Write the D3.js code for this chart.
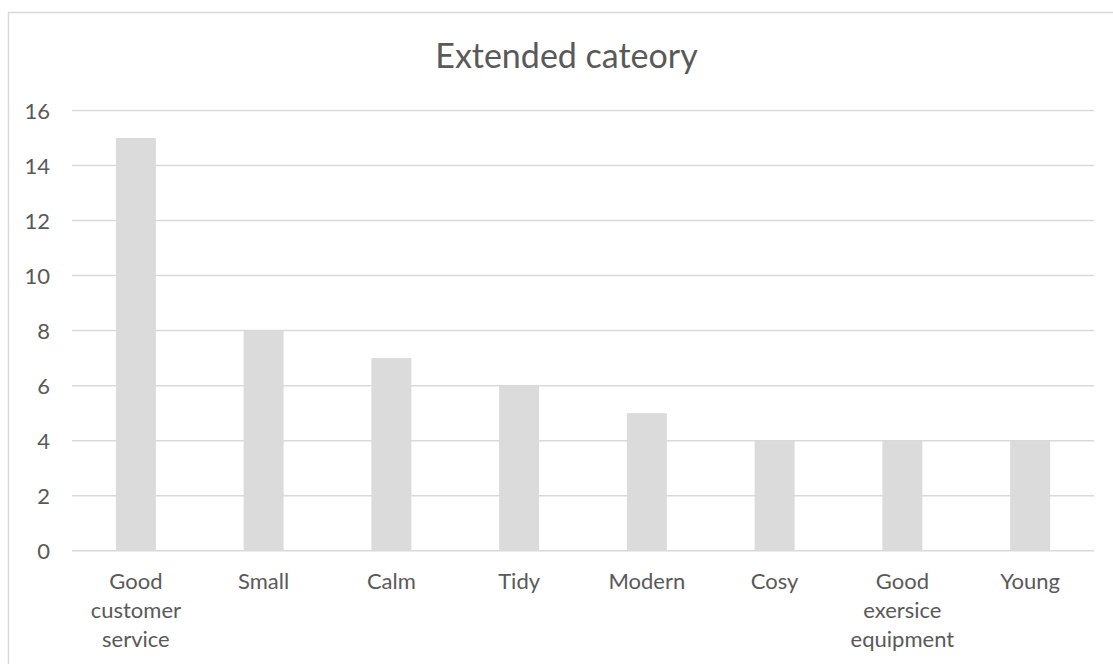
<!DOCTYPE html>
<html>
<head>
<meta charset="utf-8">
<script src="https://cdn.jsdelivr.net/npm/d3@7"></script>
<style>
  html, body { margin: 0; padding: 0; background: #ffffff; }
  svg { display: block; }
  text { font-family: Lato, "Open Sans", "DejaVu Sans", sans-serif; fill: #595959; }
</style>
</head>
<body>
<svg id="chart" width="1113" height="664"></svg>
<script>
// Chart data
const title = "Extended cateory";
const categories = ["Good customer service", "Small", "Calm", "Tidy", "Modern", "Cosy", "Good exersice equipment", "Young"];
const values = [15, 8, 7, 6, 5, 4, 4, 4];
const yTicks = [0, 2, 4, 6, 8, 10, 12, 14, 16];

const svg = d3.select("#chart");

// Chart frame and plot area
const frame = { x: 8.5, y: 12.5, w: 1116, h: 680 };
const plot = { left: 72, right: 1094, top: 110.5, bottom: 550.7 };

svg.append("rect")
  .attr("x", frame.x).attr("y", frame.y)
  .attr("width", frame.w).attr("height", frame.h)
  .attr("fill", "#ffffff")
  .attr("stroke", "#d9d9d9")
  .attr("stroke-width", 1.5);

// Title
svg.append("text")
  .attr("x", frame.x + frame.w / 2)
  .attr("y", 68)
  .attr("text-anchor", "middle")
  .style("font-size", "34px")
  .text(title);

// Scales
const x = d3.scaleBand()
  .domain(categories)
  .range([plot.left, plot.right])
  .paddingInner(0)
  .paddingOuter(0);

const y = d3.scaleLinear()
  .domain([0, 16])
  .range([plot.bottom, plot.top]);

const barWidth = x.bandwidth() * 0.313;

// Gridlines
svg.append("g")
  .selectAll("line")
  .data(yTicks)
  .join("line")
  .attr("x1", plot.left)
  .attr("x2", plot.right)
  .attr("y1", d => y(d))
  .attr("y2", d => y(d))
  .attr("stroke", "#d9d9d9")
  .attr("stroke-width", 1.5);

// Bars
svg.append("g")
  .selectAll("rect")
  .data(values)
  .join("rect")
  .attr("x", (d, i) => x(categories[i]) + x.bandwidth() / 2 - barWidth / 2)
  .attr("width", barWidth)
  .attr("y", d => y(d))
  .attr("height", d => y(0) - y(d))
  .attr("fill", "#dbdbdb");

// Y axis labels
const yAxis = d3.axisLeft(y)
  .tickValues(yTicks)
  .tickSize(0)
  .tickPadding(0)
  .tickFormat(d3.format("d"));

const yG = svg.append("g")
  .attr("transform", "translate(50,0)")
  .call(yAxis);
yG.select(".domain").remove();
yG.selectAll("text")
  .attr("x", 0)
  .attr("dy", "0.35em")
  .style("font-family", "Lato, 'Open Sans', sans-serif")
  .style("font-size", "22px")
  .attr("fill", "#595959");

// X axis labels, wrapped word by word to the band width
const xAxis = d3.axisBottom(x).tickSize(0).tickPadding(0);
const xG = svg.append("g")
  .attr("transform", `translate(0,${plot.bottom})`)
  .call(xAxis);
xG.select(".domain").remove();

const lineHeight = 29.3;
xG.selectAll(".tick text")
  .style("font-family", "Lato, 'Open Sans', sans-serif")
  .style("font-size", "22px")
  .attr("fill", "#595959")
  .each(function(d) {
    const t = d3.select(this);
    const words = d.split(/\s+/);
    t.text(null).attr("y", 0).attr("dy", null);
    const maxW = x.bandwidth() - 10;
    const lines = [];
    let cur = [];
    const probe = t.append("tspan");
    words.forEach(w => {
      probe.text(cur.concat([w]).join(" "));
      if (cur.length && probe.node().getComputedTextLength() > maxW) {
        lines.push(cur.join(" "));
        cur = [w];
      } else {
        cur.push(w);
      }
    });
    if (cur.length) lines.push(cur.join(" "));
    probe.remove();
    lines.forEach((ln, i) => {
      t.append("tspan")
        .attr("x", 0)
        .attr("y", 38 + i * lineHeight)
        .text(ln);
    });
  });
</script>
</body>
</html>
